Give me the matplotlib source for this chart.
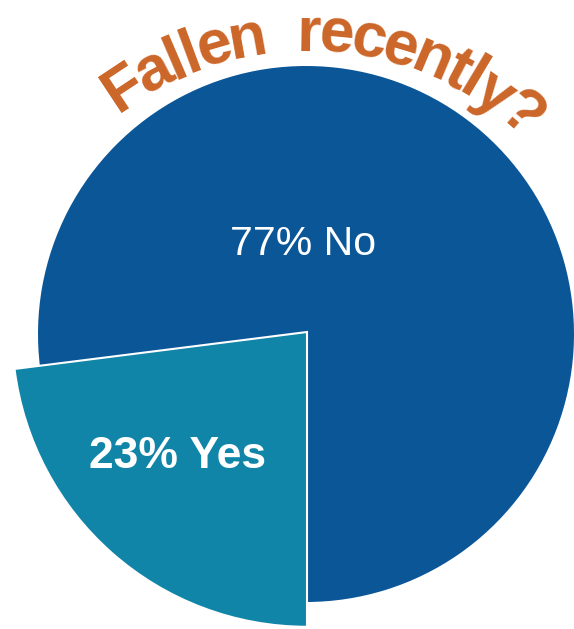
import numpy as np
import matplotlib
matplotlib.use("Agg")
import matplotlib.pyplot as plt
from matplotlib import font_manager
from matplotlib.ft2font import FT2Font

# data
labels = ["No", "Yes"]
values = [77, 23]
colors = ["#0B5697", "#1085A8"]
title = "Fallen  recently?"
title_color = "#CC6629"

W, H = 574, 629
fig = plt.figure(figsize=(W / 100, H / 100), dpi=100)
ax = fig.add_axes([0, 0, 1, 1])

# pie, working in pixel units (y up)
cx, cy, r = 306, H - 334, 268
wedges, _ = ax.pie(values, colors=colors, startangle=-90, counterclock=True,
                   center=(cx, cy), radius=r,
                   wedgeprops=dict(linewidth=0))
# the "Yes" slice is pulled out as a larger wedge
wedges[1].set_radius(r * 1.1)
wedges[1].set_center((cx + 1, cy + 2))
wedges[1].set_edgecolor("white")
wedges[1].set_linewidth(1.5)

ax.text(303.5, H - 244, "77% No", color="white", fontsize=29.5,
        family="Liberation Sans", ha="center", va="center")
ax.text(178, H - 456, "23% Yes", color="white", fontsize=32,
        family="Liberation Sans", weight="bold", ha="center", va="center")

# curved title, one glyph at a time along an arc
fsize = 45
fp = font_manager.FontProperties(family="Liberation Sans", weight="bold")
font = FT2Font(font_manager.findfont(fp))
font.set_size(fsize, 100)
adv = np.array([font.load_char(ord(c)).linearHoriAdvance / 65536 for c in title])
mid = np.cumsum(adv) - adv / 2
a0, a1 = -33.5, 41.2          # angle from vertical of first/last glyph
ang = a0 + (mid - mid[0]) / (mid[-1] - mid[0]) * (a1 - a0)
tcx, tcy, R = 305, H - 361, 310
for ch, a in zip(title, ang):
    if ch == " ":
        continue
    t = np.radians(a)
    ax.text(tcx + R * np.sin(t), tcy + R * np.cos(t), ch, fontproperties=fp,
            fontsize=fsize, color=title_color, rotation=-a,
            rotation_mode="anchor", ha="center", va="baseline")

ax.set_xlim(0, W)
ax.set_ylim(0, H)
ax.set_aspect("equal")
ax.axis("off")
fig.savefig("out.png", dpi=100)
